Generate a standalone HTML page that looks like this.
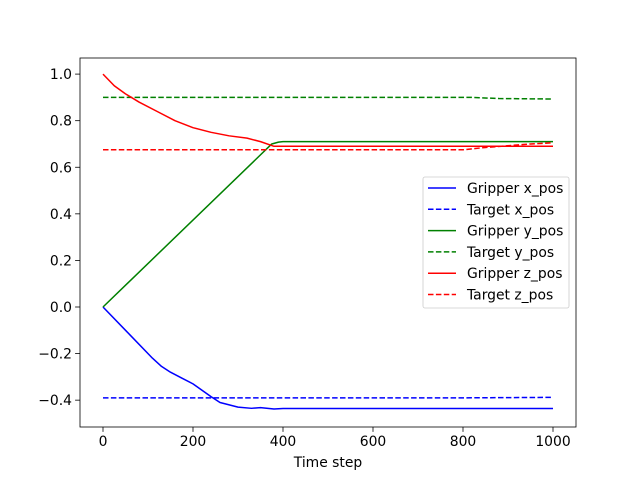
<!DOCTYPE html>
<html><head><meta charset="utf-8"><style>body{margin:0;background:#fff}svg{display:block;font-family:"DejaVu Sans","Liberation Sans",sans-serif}</style></head>
<body>
<svg id="chart" width="640" height="480" xmlns="http://www.w3.org/2000/svg">
<rect x="0" y="0" width="640" height="480" fill="#fff"/>
<g id="plot"></g>
</svg>
<script>
const gxT=[0,60,110,130,150,175,200,240,260,300,330,350,380,400,1000];
const gxV=[0,-0.12,-0.22,-0.255,-0.28,-0.305,-0.33,-0.385,-0.41,-0.43,-0.435,-0.432,-0.438,-0.436,-0.436];
const txT=[0,800,1000];
const txV=[-0.39,-0.39,-0.388];
const gyT=[0,375,390,400,1000];
const gyV=[0,0.7,0.708,0.71,0.71];
const tyT=[0,820,880,1000];
const tyV=[0.9,0.9,0.895,0.893];
const gzT=[0,25,50,80,120,160,200,240,280,320,350,380,1000];
const gzV=[1.0,0.95,0.915,0.88,0.84,0.80,0.77,0.75,0.735,0.725,0.71,0.69,0.69];
const tzT=[0,800,850,950,1000];
const tzV=[0.675,0.675,0.685,0.7,0.705];
const xTicks=[0,200,400,600,800,1000];
const yTicks=[-0.4,-0.2,0.0,0.2,0.4,0.6,0.8,1.0];
const names=["Gripper x_pos","Target x_pos","Gripper y_pos","Target y_pos","Gripper z_pos","Target z_pos"];
const L=80,R=576,T=58,B=427;
const sx=v=>103+v*0.45;
const sy=v=>307-v*232.9;
const ns="http://www.w3.org/2000/svg";
const g=document.getElementById('plot');
function mk(t,a){const e=document.createElementNS(ns,t);for(const k in a)e.setAttribute(k,a[k]);g.appendChild(e);return e;}
const series=[[gxT,gxV,'#0000ff',false],[txT,txV,'#0000ff',true],[gyT,gyV,'#008000',false],[tyT,tyV,'#008000',true],[gzT,gzV,'#ff0000',false],[tzT,tzV,'#ff0000',true]];
series.forEach((s,i)=>{
 const p=mk('polyline',{points:s[0].map((t,j)=>sx(t)+','+sy(s[1][j])).join(' '),fill:'none',stroke:s[2],'stroke-width':1.5,'stroke-dasharray':s[3]?'5.5,2.4':'none','stroke-linejoin':'round'});
 
 
});
const fr=mk('rect',{x:L,y:T,width:R-L,height:B-T,fill:'none',stroke:'#000','stroke-width':0.8});


xTicks.forEach(v=>{
 mk('line',{x1:sx(v),x2:sx(v),y1:B,y2:B+4.9,stroke:'#000','stroke-width':0.8});
 const t=mk('text',{x:sx(v),y:B+19,'font-size':13.9,'text-anchor':'middle'});t.textContent=v;
 
 
});
yTicks.forEach(v=>{
 mk('line',{x1:L-4.9,x2:L,y1:sy(v),y2:sy(v),stroke:'#000','stroke-width':0.8});
 const t=mk('text',{x:L-8,y:sy(v)+5,'font-size':13.9,'text-anchor':'end'});t.textContent=(v<0?'\u2212':'')+Math.abs(v).toFixed(1);
 
 
});
const xl=mk('text',{x:(L+R)/2,y:467,'font-size':13.9,'text-anchor':'middle'});xl.textContent='Time step';


const lg=mk('rect',{x:423,y:177,width:146,height:131,rx:2,fill:'#fff','fill-opacity':0.8,stroke:'#ccc','stroke-width':0.8});


series.forEach((s,i)=>{
 const y=188+i*21.3;
 mk('line',{x1:428,x2:456,y1:y,y2:y,stroke:s[2],'stroke-width':1.5,'stroke-dasharray':s[3]?'5.5,2.4':'none'});
 const t=mk('text',{x:467,y:y+5,'font-size':13.9});t.textContent=names[i];
 
 
});
</script>
</body></html>
